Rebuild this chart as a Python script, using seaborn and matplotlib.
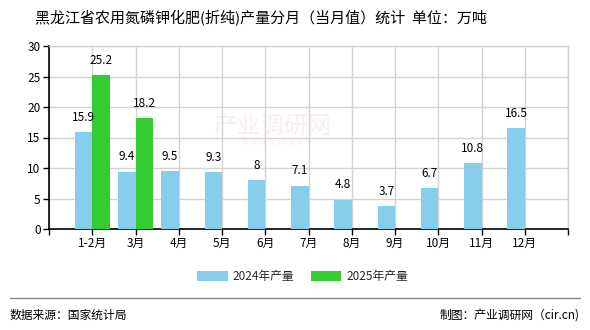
import matplotlib
matplotlib.use("Agg")
import matplotlib.pyplot as plt
import seaborn as sns
import pandas as pd

months = ["1-2月", "3月", "4月", "5月", "6月", "7月", "8月", "9月", "10月", "11月", "12月"]
values_2024 = [15.9, 9.4, 9.5, 9.3, 8, 7.1, 4.8, 3.7, 6.7, 10.8, 16.5]
months_2025 = ["1-2月", "3月"]
values_2025 = [25.2, 18.2]
series_names = ["2024年产量", "2025年产量"]
colors = ["#87CEEB", "#33CC33"]

title = "黑龙江省农用氮磷钾化肥(折纯)产量分月（当月值）统计  单位：万吨"
source_text = "数据来源：国家统计局"
credit_text = "制图：产业调研网（cir.cn)"

sns.set_theme(style="white")
plt.rcParams["font.family"] = ["Noto Sans CJK SC", "DejaVu Sans"]

df = pd.DataFrame({
    "month": months + months_2025,
    "value": values_2024 + values_2025,
    "series": [series_names[0]] * len(months) + [series_names[1]] * len(months_2025),
})

fig = plt.figure(figsize=(5.9, 3.3), dpi=100)
ax = fig.add_axes([49 / 590, 101 / 330, 519 / 590, 183 / 330])

sns.barplot(data=df, x="month", y="value", hue="series", order=months,
            hue_order=series_names, palette=colors, width=0.8, dodge=True,
            saturation=1, errorbar=None, ax=ax, legend=True, zorder=3,
            linewidth=0, edgecolor="none")

# value labels above each bar
for container in ax.containers:
    for bar in container:
        h = bar.get_height()
        if h != h or h == 0:
            continue
        label = f"{h:g}"
        ax.annotate(label, (bar.get_x() + bar.get_width() / 2, h),
                    xytext=(0, 6), textcoords="offset points",
                    ha="center", va="bottom", fontsize=8.5, color="#000000",
                    zorder=5)

ax.set_xlim(-1, len(months))
ax.set_ylim(0, 30)
ax.set_yticks(range(0, 31, 5))
ax.set_yticklabels([str(v) for v in range(0, 31, 5)], fontsize=8.5)
ax.set_xticks(range(-1, len(months) + 1))
ax.set_xticklabels([""] + months + [""], fontsize=8.5)
ax.set_xlabel("")
ax.set_ylabel("")

ax.grid(True, axis="both", color="#d3d3d3", linewidth=1, zorder=0)
ax.set_axisbelow(True)
for side in ["top", "right"]:
    ax.spines[side].set_color("#d3d3d3")
    ax.spines[side].set_linewidth(1)
for side in ["left", "bottom"]:
    ax.spines[side].set_color("#000000")
    ax.spines[side].set_linewidth(1.2)
ax.tick_params(axis="both", which="major", direction="out", length=4,
               width=1, color="#000000", bottom=True, left=True, pad=2,
               labelcolor="#000000")

# faint watermark
ax.text(0.43, 0.56, "产业调研网", transform=ax.transAxes, fontsize=17,
        color="#f4d4d4", alpha=0.4, ha="center", va="center", zorder=1)
ax.text(0.43, 0.475, "w w w . c i r . c n", transform=ax.transAxes, fontsize=6,
        color="#f4d4d4", alpha=0.4, ha="center", va="center", zorder=1)

leg = ax.legend(loc="upper center", bbox_to_anchor=(0.5 - 6 / 519, -0.2),
                ncol=2, frameon=False, fontsize=8.5, handlelength=2.6,
                handleheight=0.9, columnspacing=1.4, handletextpad=0.4,
                borderaxespad=0)
for h in leg.legend_handles:
    h.set_linewidth(0)

fig.text(261 / 590, 1 - 18 / 330, title, ha="center", va="center",
         fontsize=10.8, color="#000000")

fig.add_artist(plt.Line2D([10 / 590, 580 / 590], [1 - 298 / 330, 1 - 298 / 330],
                          color="#888888", linewidth=1))
fig.text(10 / 590, 1 - 315 / 330, source_text, ha="left", va="center",
         fontsize=8.5, color="#000000")
fig.text(580 / 590, 1 - 315 / 330, credit_text, ha="right", va="center",
         fontsize=8.5, color="#000000")

fig.savefig("out.png", dpi=100, facecolor="white")
